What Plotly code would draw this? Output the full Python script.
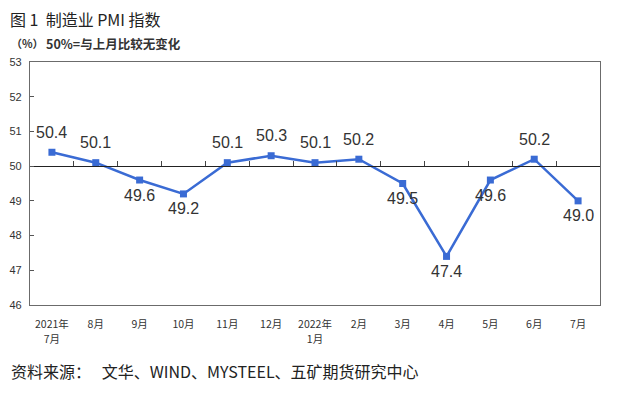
import plotly.graph_objects as go

categories_line1 = ["2021年", "8月", "9月", "10月", "11月", "12月", "2022年",
                    "2月", "3月", "4月", "5月", "6月", "7月"]
categories_line2 = ["7月", "", "", "", "", "", "1月", "", "", "", "", "", ""]
pmi = [50.4, 50.1, 49.6, 49.2, 50.1, 50.3, 50.1, 50.2, 49.5, 47.4, 49.6, 50.2, 49.0]
label_above = [True, True, False, False, True, True, True, True, False, False, False, True, False]
y_ticks = [46, 47, 48, 49, 50, 51, 52, 53]

BLUE = "#3a6bd4"
x_idx = list(range(len(categories_line1)))
x_range = [-0.5, len(x_idx) - 0.5]
tick_font = dict(family="Noto Sans CJK SC", size=10.5, color="#333333")

fig = go.Figure()
fig.add_trace(go.Scatter(
    x=x_idx, y=pmi, mode="lines+markers",
    line=dict(color=BLUE, width=2.5),
    marker=dict(symbol="square", size=7, color=BLUE),
    showlegend=False, hoverinfo="skip",
))
# invisible traces to activate the overlay axes
fig.add_trace(go.Scatter(x=x_idx, y=pmi, xaxis="x2", mode="markers",
                         marker=dict(opacity=0), showlegend=False, hoverinfo="skip"))
fig.add_trace(go.Scatter(x=x_idx, y=pmi, xaxis="x3", mode="markers",
                         marker=dict(opacity=0), showlegend=False, hoverinfo="skip"))

for i, (v, up) in enumerate(zip(pmi, label_above)):
    fig.add_annotation(x=i, y=v, text=f"{v:.1f}", showarrow=False,
                       yshift=20 if up else -15,
                       font=dict(family="Liberation Sans, Arial", size=16, color="#333333"))

fig.add_annotation(xref="paper", yref="paper", x=-0.036, y=1.178, xanchor="left", yanchor="middle",
                   text="图 1  制造业 PMI 指数", showarrow=False, borderpad=0,
                   font=dict(family="Noto Sans CJK SC", size=16, color="#222222"))
fig.add_annotation(xref="paper", yref="paper", x=-0.037, y=1.078, xanchor="left", yanchor="middle",
                   text="<b>（%）</b>", showarrow=False,
                   font=dict(family="Noto Sans CJK SC", size=11, color="#333333"))
fig.add_annotation(xref="paper", yref="paper", x=0.025, y=1.078, xanchor="left", yanchor="middle",
                   text="<b>50%=与上月比较无变化</b>", showarrow=False,
                   font=dict(family="Noto Sans CJK SC", size=12.5, color="#333333"))
fig.add_annotation(xref="paper", yref="paper", x=-0.037, y=-0.272, xanchor="left", yanchor="middle",
                   text="资料来源：   文华、WIND、MYSTEEL、五矿期货研究中心", showarrow=False,
                   font=dict(family="Noto Sans CJK SC", size=16, color="#222222"))

# the page body adds an 8px offset, so the figure is sized/margined to compensate
fig.update_layout(
    width=610, height=390,
    margin=dict(l=22, r=18, t=54, b=93),
    paper_bgcolor="white", plot_bgcolor="white",
    xaxis=dict(
        tickmode="array", tickvals=x_idx, ticktext=categories_line1,
        range=x_range, automargin=False,
        showline=True, linecolor="#6b6b6b", linewidth=1.2, mirror=True,
        ticks="", showgrid=False, zeroline=False, ticklabelstandoff=9,
        tickfont=tick_font,
    ),
    xaxis3=dict(
        overlaying="x", anchor="y", side="bottom",
        tickmode="array", tickvals=x_idx, ticktext=categories_line2,
        range=x_range, automargin=False, showline=False,
        ticks="", showgrid=False, zeroline=False, ticklabelstandoff=26,
        tickfont=tick_font,
    ),
    xaxis2=dict(
        overlaying="x", anchor="free", position=(50 - 46) / (53 - 46), side="bottom",
        range=x_range, automargin=False,
        tickmode="array", tickvals=[i + 0.5 for i in x_idx[:-1]],
        showticklabels=False, ticks="inside", ticklen=5, tickcolor="#444444",
        showline=True, linecolor="#222222", linewidth=1.2, showgrid=False, zeroline=False,
    ),
    yaxis=dict(
        range=[46, 53], tickvals=y_ticks, showgrid=False, zeroline=False, automargin=False,
        showline=True, linecolor="#6b6b6b", linewidth=1.2, mirror=True,
        ticks="inside", ticklen=4, tickcolor="#555555",
        tickfont=dict(family="Liberation Sans, Arial", size=11, color="#333333"),
        ticklabelstandoff=5,
    ),
)

fig.write_html("out.html")
